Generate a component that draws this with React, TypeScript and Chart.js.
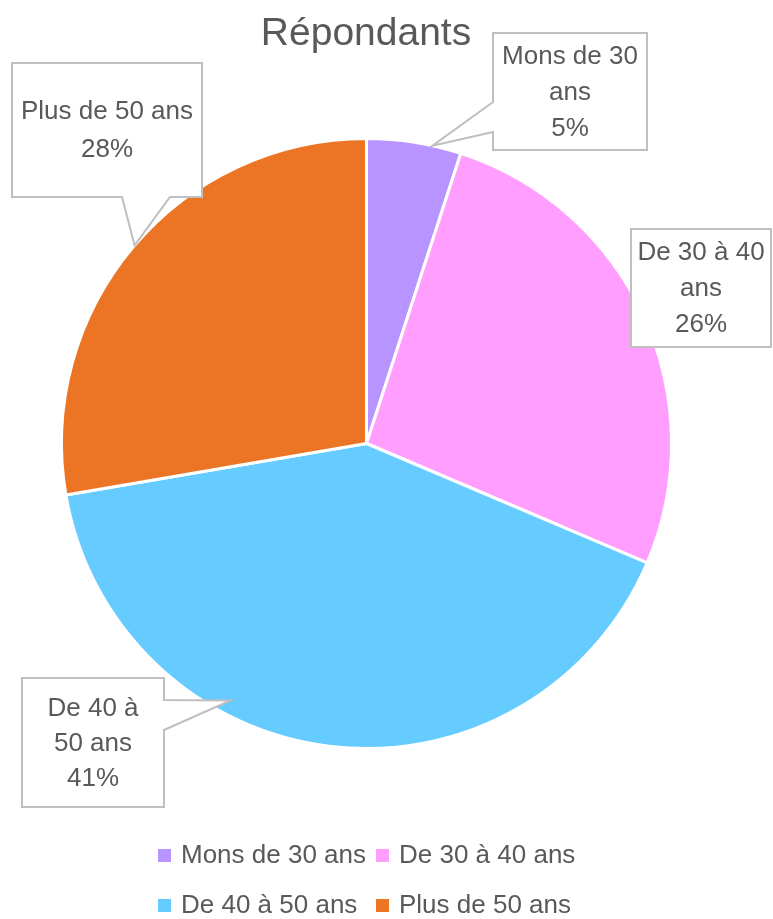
import React, { useEffect, useRef } from 'react';
import { Chart, registerables } from 'chart.js';

Chart.register(...registerables);

// ---- data ----
const TITLE = 'Répondants';
const categories = ['Mons de 30 ans', 'De 30 à 40 ans', 'De 40 à 50 ans', 'Plus de 50 ans'];
const shares = [5.0, 26.4, 40.9, 27.7];
const calloutNames = [['Mons de 30', 'ans'], ['De 30 à 40', 'ans'], ['De 40 à', '50 ans'], ['Plus de 50 ans']];
const sliceColors = ['#B794FF', '#FF9EFF', '#66CCFF', '#EB7524'];

// ---- layout (positions only) ----
const FONT = '"Liberation Sans", Arial, sans-serif';
const TEXT_COLOR = '#595959';
type Callout = {
  box: [number, number, number, number];
  side: 'left' | 'right' | 'bottom' | null;
  base?: [number, number];
  tipAngle?: number;
  tipR?: number;
  lineH: number;
};
const CALLOUTS: Callout[] = [
  { box: [493, 33, 647, 150], side: 'left', base: [102, 132], tipAngle: 12.5, tipR: 1.0, lineH: 36 },
  { box: [631, 229, 771, 347], side: null, lineH: 36 },
  { box: [22, 678, 164, 807], side: 'right', base: [700, 730], tipAngle: 207.9, tipR: 0.953, lineH: 35 },
  { box: [12, 63, 202, 197], side: 'bottom', base: [122, 170], tipAngle: 310.5, tipR: 1.0, lineH: 38 },
];
const LEGEND_COLS = [158, 376];
const LEGEND_ROWS = [855, 905];

const calloutPlugin = {
  id: 'callouts',
  afterDatasetsDraw(chart: any) {
    const ctx = chart.ctx as CanvasRenderingContext2D;
    const meta = chart.getDatasetMeta(0);
    const values = chart.data.datasets[0].data as number[];
    const total = values.reduce((a, b) => a + b, 0);
    ctx.save();
    meta.data.forEach((arc: any, i: number) => {
      const c = CALLOUTS[i];
      if (!c) return;
      const [x0, y0, x1, y1] = c.box;
      ctx.beginPath();
      if (c.side && c.base && c.tipAngle !== undefined) {
        const a = (c.tipAngle * Math.PI) / 180;
        const r = arc.outerRadius * (c.tipR ?? 1);
        const tx = arc.x + r * Math.sin(a);
        const ty = arc.y - r * Math.cos(a);
        const [b1, b2] = c.base;
        if (c.side === 'left') {
          ctx.moveTo(x0, y0); ctx.lineTo(x1, y0); ctx.lineTo(x1, y1); ctx.lineTo(x0, y1);
          ctx.lineTo(x0, b2); ctx.lineTo(tx, ty); ctx.lineTo(x0, b1);
        } else if (c.side === 'right') {
          ctx.moveTo(x0, y0); ctx.lineTo(x1, y0); ctx.lineTo(x1, b1); ctx.lineTo(tx, ty);
          ctx.lineTo(x1, b2); ctx.lineTo(x1, y1); ctx.lineTo(x0, y1);
        } else {
          ctx.moveTo(x0, y0); ctx.lineTo(x1, y0); ctx.lineTo(x1, y1); ctx.lineTo(b2, y1);
          ctx.lineTo(tx, ty); ctx.lineTo(b1, y1); ctx.lineTo(x0, y1);
        }
      } else {
        ctx.rect(x0, y0, x1 - x0, y1 - y0);
      }
      ctx.closePath();
      ctx.fillStyle = '#FFFFFF';
      ctx.fill();
      ctx.strokeStyle = '#BFBFBF';
      ctx.lineWidth = 2;
      ctx.stroke();

      const pct = Math.round((values[i] / total) * 100) + '%';
      const lines = [...calloutNames[i], pct];
      ctx.fillStyle = TEXT_COLOR;
      ctx.font = `26px ${FONT}`;
      ctx.textAlign = 'center';
      ctx.textBaseline = 'middle';
      const cx = (x0 + x1) / 2;
      const cy = (y0 + y1) / 2;
      const start = cy - ((lines.length - 1) * c.lineH) / 2;
      lines.forEach((t, k) => ctx.fillText(t, cx, start + k * c.lineH + 1));
    });
    ctx.restore();
  },
  afterDraw(chart: any) {
    const ctx = chart.ctx as CanvasRenderingContext2D;
    ctx.save();
    // title
    ctx.fillStyle = TEXT_COLOR;
    ctx.font = `39px ${FONT}`;
    ctx.textAlign = 'center';
    ctx.textBaseline = 'alphabetic';
    ctx.fillText(TITLE, 366, 45);
    // legend
    const labels = chart.data.labels as string[];
    const colors = chart.data.datasets[0].backgroundColor as string[];
    ctx.font = `26px ${FONT}`;
    ctx.textAlign = 'left';
    ctx.textBaseline = 'middle';
    labels.forEach((lab, i) => {
      const x = LEGEND_COLS[i % 2];
      const y = LEGEND_ROWS[Math.floor(i / 2)];
      ctx.fillStyle = colors[i];
      ctx.fillRect(x, y - 6, 13, 13);
      ctx.fillStyle = TEXT_COLOR;
      ctx.fillText(lab, x + 23, y + 1);
    });
    ctx.restore();
  },
};

export default function App() {
  const ref = useRef<HTMLCanvasElement | null>(null);
  useEffect(() => {
    if (!ref.current) return;
    const chart = new Chart(ref.current, {
      type: 'pie',
      data: {
        labels: categories,
        datasets: [
          {
            data: shares,
            backgroundColor: sliceColors,
            borderColor: '#FFFFFF',
            borderWidth: 3,
          },
        ],
      },
      options: {
        responsive: false,
        animation: false,
        layout: { padding: { left: 60, right: 100, top: 137, bottom: 169 } },
        plugins: {
          legend: { display: false },
          title: { display: false },
          tooltip: { enabled: false },
        },
      },
      plugins: [calloutPlugin],
    });
    return () => chart.destroy();
  }, []);
  return (
    <div style={{ position: 'absolute', left: 0, top: 0, width: 773, height: 919, background: '#FFFFFF' }}>
      <canvas ref={ref} width={773} height={919} style={{ display: 'block' }} />
    </div>
  );
}
